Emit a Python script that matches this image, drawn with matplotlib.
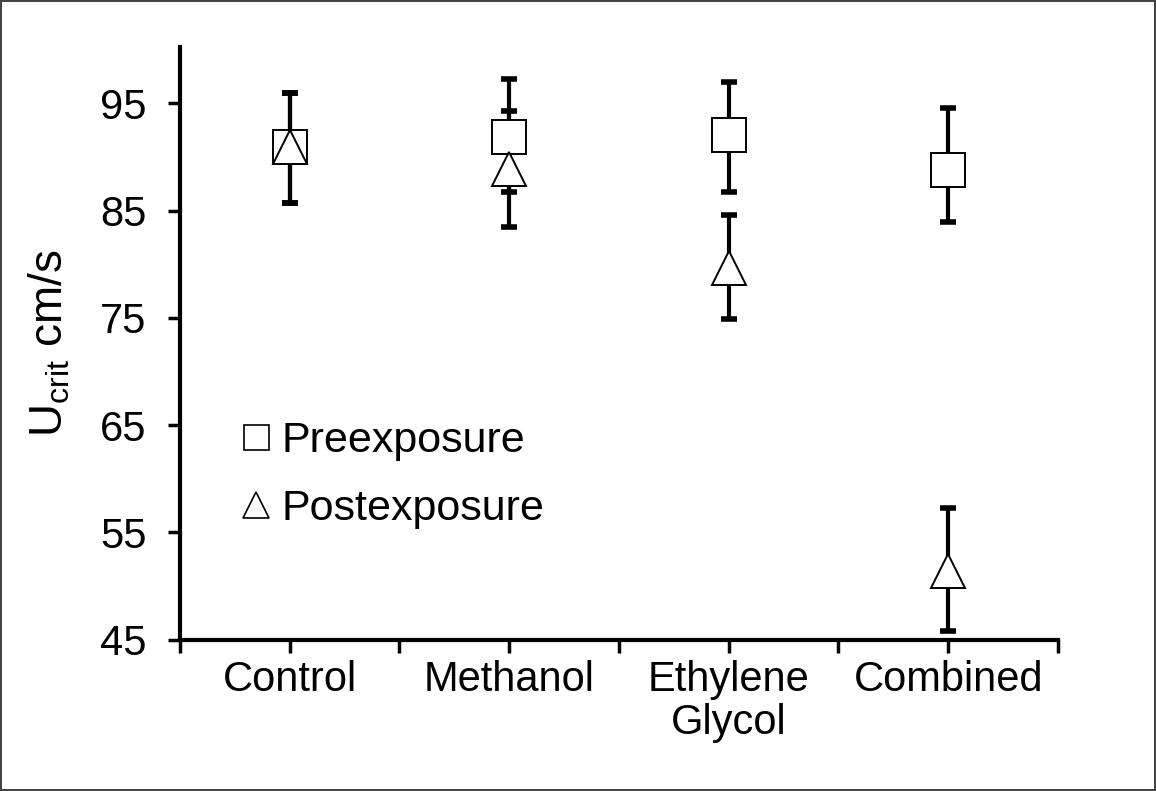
import numpy as np
import matplotlib
matplotlib.use('Agg')
import matplotlib.pyplot as plt
from matplotlib.lines import Line2D

plt.rcParams['font.family'] = ['Liberation Sans', 'DejaVu Sans']

# data
groups = ['Control', 'Methanol', 'Ethylene\nGlycol', 'Combined']
pre_mean = [90.9, 91.9, 92.1, 88.8]
pre_lo = [85.7, 86.7, 86.7, 83.9]
pre_hi = [96.0, 97.3, 97.0, 94.6]
post_mean = [90.9, 88.9, 79.7, 51.4]
post_lo = [85.7, 83.5, 74.9, 45.8]
post_hi = [96.0, 94.3, 84.6, 57.3]

x = np.arange(1, len(groups) + 1)

fig = plt.figure(figsize=(11.56, 7.91), dpi=100)
fig.patch.set_edgecolor('#444444')
fig.patch.set_linewidth(1.5)
ax = fig.add_axes([0.1557, 0.1915, 0.7595, 0.7495])

def err(mean, lo, hi):
    mean = np.array(mean)
    return [mean - np.array(lo), np.array(hi) - mean]

# error bars first, markers drawn on top
for m, lo, hi in [(pre_mean, pre_lo, pre_hi), (post_mean, post_lo, post_hi)]:
    eb = ax.errorbar(x, m, yerr=err(m, lo, hi), fmt='none', ecolor='black',
                     elinewidth=3, capsize=6, capthick=4, zorder=2)
    for c in eb[1]:
        c.set_solid_capstyle('round')

ax.plot(x, pre_mean, 's', ms=24, mfc='white', mec='black', mew=1.4, zorder=3)
ax.plot(x, post_mean, '^', ms=24, mfc='white', mec='black', mew=1.4, zorder=4)

ax.set_xlim(0.5, 4.5)
ax.set_ylim(45, 100.3)
ax.set_yticks([45, 55, 65, 75, 85, 95])
ticks = np.arange(0.5, 4.51, 0.5)
ax.set_xticks(ticks)
ax.set_xticklabels([groups[int(t) - 1] if t == int(t) else '' for t in ticks],
                   linespacing=1.1)

for s in ['top', 'right']:
    ax.spines[s].set_visible(False)
for s in ['left', 'bottom']:
    ax.spines[s].set_linewidth(3)
ax.tick_params(axis='both', width=2.5, length=9, labelsize=30, direction='out')
ax.tick_params(axis='x', pad=6)
ax.tick_params(axis='y', pad=15)

ax.set_ylabel(r'U$_\mathregular{crit}$ cm/s', fontsize=33)
ax.yaxis.set_label_coords(-0.122, 0.5)

handles = [Line2D([], [], ls='none', marker='s', ms=18, mfc='white', mec='black', mew=1.2),
           Line2D([], [], ls='none', marker='^', ms=19, mfc='white', mec='black', mew=1.2)]
ax.legend(handles, ['Preexposure', 'Postexposure'], loc='upper left',
          bbox_to_anchor=(0.047, 0.397), frameon=False, fontsize=31,
          handlelength=0.8, handletextpad=0.2, labelspacing=0.65, borderaxespad=0)

fig.savefig('out.png', dpi=100, edgecolor=fig.get_edgecolor())
